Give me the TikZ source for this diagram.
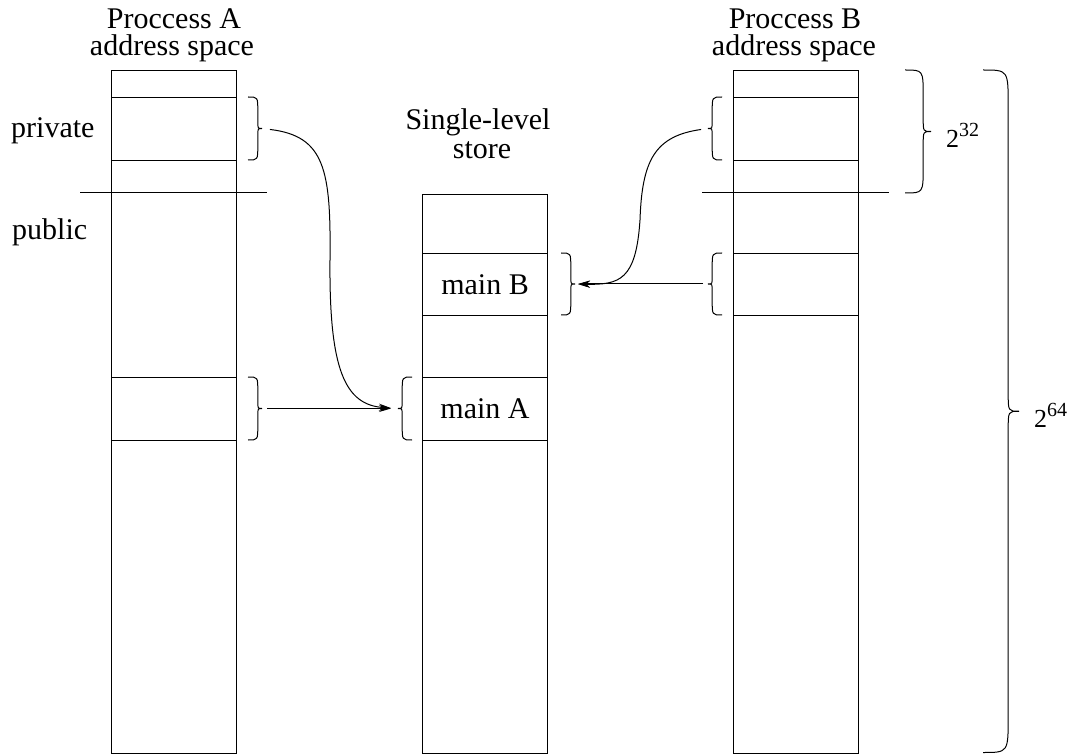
\documentclass[tikz,border=0pt]{standalone}
\usepackage{fontspec}
\setmainfont{Liberation Serif}
\usetikzlibrary{arrows.meta}
\tikzset{
  box/.style={draw, line width=1pt, inner sep=0pt, anchor=north west, font=\fontsize{30}{30}\selectfont},
  lbl/.style={inner sep=0pt, anchor=base, font=\fontsize{30}{30}\selectfont},
  brc/.style={line width=1pt},
  divider/.style={line width=1pt},
  arr/.style={line width=1pt, -{Stealth[length=12pt,width=7pt,inset=4pt]}},
}
\newcommand\Brace[5]{%
  \pgfmathsetmacro\bh{#3-#2}%
  \pgfmathsetmacro\bym{(#2+#3)/2}%
  \pgfmathsetmacro\bxs{#1+0.7*(#4)}%
  \pgfmathsetmacro\bxt{#1+(#4)}%
  \pgfmathsetmacro\br{min(abs(#4),\bh/4)}%
  \pgfmathsetmacro\brr{min(0.5*abs(#4),\bh/4)}%
  \draw[brc] (#1,#2) .. controls (\bxs,#2) .. (\bxs,#2+\br) -- (\bxs,\bym-\brr)
    .. controls (\bxs,\bym) .. (\bxt,\bym)
    .. controls (\bxs,\bym) .. (\bxs,\bym+\brr) -- (\bxs,#3-\br)
    .. controls (\bxs,#3) .. (#1,#3);
  \coordinate (#5) at (\bxt,\bym);
}
\begin{document}
\begin{tikzpicture}[x=1pt,y=-1pt]
\useasboundingbox (0,0) rectangle (1069,754);

% headings
\node[lbl] (hA1) at (174,29) {Proccess A};
\node[lbl] (hA2) at (172,56) {address space};
\node[lbl] (hB1) at (795,29) {Proccess B};
\node[lbl] (hB2) at (794,56) {address space};
\node[lbl] (hS1) at (478,130) {Single-level};
\node[lbl] (hS2) at (482,159) {store};
\node[lbl, anchor=base west] (priv) at (11,138) {private};
\node[lbl, anchor=base west] (pub) at (12,240) {public};

% process A column
\node[box, minimum width=125pt, minimum height=682.5pt] (colA) at (111,70) {};
\node[box, minimum width=125pt, minimum height=63pt] (privA) at (111,97) {};
\node[box, minimum width=125pt, minimum height=63pt] (lowA) at (111,377) {};
\draw[divider] (80,193) -- (267,193);

% single-level store
\node[box, minimum width=125pt, minimum height=558.5pt] (colS) at (422,194) {};
\node[box, minimum width=125pt, minimum height=62pt] (mainB) at (422,253) {main B};
\node[box, minimum width=125pt, minimum height=63pt] (mainA) at (422,377) {main A};

% process B column
\node[box, minimum width=125pt, minimum height=682.5pt] (colB) at (733,70) {};
\node[box, minimum width=125pt, minimum height=63pt] (privB) at (733,97) {};
\node[box, minimum width=125pt, minimum height=62pt] (lowB) at (733,253) {};
\draw[divider] (702,193) -- (889,193);

% braces
\Brace{248}{97}{160}{14}{tA1}
\Brace{248}{377}{440}{14}{tA2}
\Brace{412}{377}{440}{-14}{tMA}
\Brace{561}{253}{315}{14}{tMB}
\Brace{722}{97}{160}{-14}{tB1}
\Brace{722}{253}{315}{-14}{tB2}
\Brace{905}{70}{193}{26}{t32}
\Brace{983}{70}{752.5}{36}{t64}

% size labels
\node[lbl, anchor=base west, font=\fontsize{26}{26}\selectfont] (e32) at (946,148) {2\raisebox{11pt}{\fontsize{20}{20}\selectfont 32}};
\node[lbl, anchor=base west, font=\fontsize{26}{26}\selectfont] (e64) at (1034,427) {2\raisebox{11pt}{\fontsize{20}{20}\selectfont 64}};

% arrows
\draw[arr, shorten <=5pt, shorten >=7pt] (tA2) -- (tMA);
\draw[arr, shorten <=5pt, shorten >=3pt] (tB2) -- (tMB);
\draw[arr, shorten <=8pt, shorten >=7pt] (tA1) .. controls (325,136) and (331,170) .. (330,260)
  .. controls (329,370) and (345,405) .. (tMA);
\draw[arr, shorten <=7pt, shorten >=3pt] (tB1) .. controls (655,136) and (642,160) .. (640,220)
  .. controls (636,280) and (620,285) .. (tMB);
\end{tikzpicture}
\end{document}
